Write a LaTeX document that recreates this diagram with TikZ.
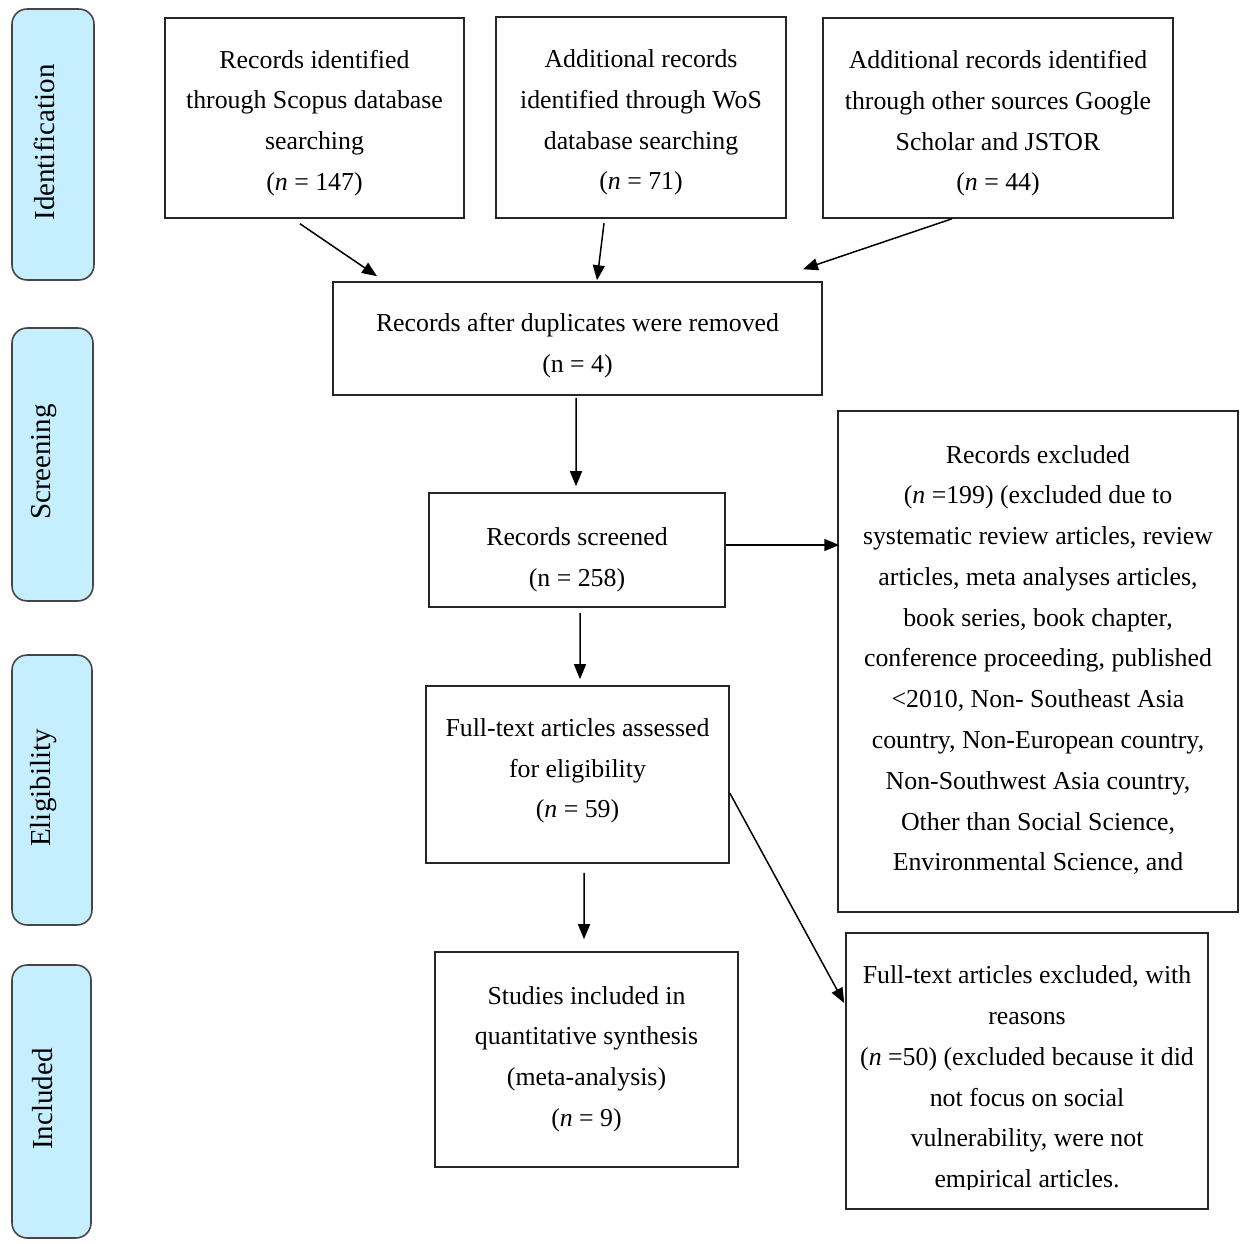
\documentclass[tikz,border=0pt]{standalone}
\usepackage{fontspec}
\setmainfont{Liberation Serif}
\usetikzlibrary{arrows.meta}
\definecolor{stagefill}{RGB}{197,238,255}
\definecolor{stageline}{RGB}{70,70,70}
\begin{document}
\begin{tikzpicture}[x=0.02cm,y=-0.02cm,
  box/.style={draw=black!85, line width=0.9pt, inner sep=0pt},
  txt/.style={align=center, inner sep=0pt, font=\fontsize{14.7}{23.2}\selectfont},
  stage/.style={draw=stageline, fill=stagefill, line width=0.9pt, rounded corners=0.3cm,
    rotate=90, inner sep=0pt},
  stagetxt/.style={rotate=90, inner sep=0pt, font=\fontsize{16.5}{18}\selectfont},
  arr/.style={line width=0.85pt, -{Triangle[length=0.3cm,width=0.24cm]}}]
\useasboundingbox (0,0) rectangle (1240,1244);
% stage labels
\node[stage, minimum width=5.42cm, minimum height=1.64cm] (sid) at (53,144.5) {};
\node[stagetxt] (sidt) at (44,142.5) {Identification};
\node[stage, minimum width=5.46cm, minimum height=1.62cm] (ssc) at (52.5,464.5) {};
\node[stagetxt] (ssct) at (44,462) {Screening};
\node[stage, minimum width=5.40cm, minimum height=1.60cm] (sel) at (52,790) {};
\node[stagetxt] (selt) at (43.5,788) {Eligibility};
\node[stage, minimum width=5.46cm, minimum height=1.58cm] (sin) at (51.5,1101.5) {};
\node[stagetxt] (sint) at (43,1099) {Included};
% boxes
\node[box, minimum width=5.98cm, minimum height=4.0cm] (b1) at (314.5,118) {};
\node[txt] (b1t) at (314.5,123)
  {Records identified\\through Scopus database\\searching\\(\textit{n} = 147)};
\node[box, minimum width=5.8cm, minimum height=4.02cm] (b2) at (641,117.5) {};
\node[txt] (b2t) at (641,122.5)
  {Additional records\\identified through WoS\\database searching\\(\textit{n} = 71)};
\node[box, minimum width=7.0cm, minimum height=4.0cm] (b3) at (998,118) {};
\node[txt] (b3t) at (998,123.5)
  {Additional records identified\\through other sources Google\\Scholar and JSTOR\\(\textit{n} = 44)};
\node[box, minimum width=9.78cm, minimum height=2.26cm] (dup) at (577.5,338.5) {};
\node[txt] (dupt) at (577.5,345.5)
  {Records after duplicates were removed\\(n = 4)};
\node[box, minimum width=5.92cm, minimum height=2.28cm] (scr) at (577,550) {};
\node[txt] (scrt) at (577,559.5)
  {Records screened\\(n = 258)};
\node[box, minimum width=8.0cm, minimum height=10.02cm] (excl) at (1038,661.5) {};
\node[txt] (exclt) at (1038,660)
  {Records excluded\\(\textit{n} =199) (excluded due to\\systematic review articles, review\\articles, meta analyses articles,\\book series, book chapter,\\conference proceeding, published\\<2010, Non- Southeast Asia\\country, Non-European country,\\Non-Southwest Asia country,\\Other than Social Science,\\Environmental Science, and};
\node[box, minimum width=6.06cm, minimum height=3.54cm] (full) at (577.5,774.5) {};
\node[txt] (fullt) at (577.5,771)
  {Full-text articles assessed\\for eligibility\\(\textit{n} = 59)};
\node[box, minimum width=6.06cm, minimum height=4.3cm] (stud) at (586.5,1059.5) {};
\node[txt] (studt) at (586.5,1059)
  {Studies included in\\quantitative synthesis\\(meta-analysis)\\(\textit{n} = 9)};
\node[box, minimum width=7.24cm, minimum height=5.52cm] (fexc) at (1027,1071) {};
\begin{scope}
\clip (850,940) rectangle (1204,1189);
\node[txt] (fexct) at (1027,1079.5)
  {Full-text articles excluded, with\\reasons\\(\textit{n} =50) (excluded because it did\\not focus on social\\vulnerability, were not\\empirical articles.};
\end{scope}
% connectors
\draw[arr] ([xshift=-0.29cm,yshift=-0.1cm]b1.south) -- ([xshift=-4.01cm,yshift=0.1cm]dup.north);
\draw[arr] ([xshift=-0.74cm,yshift=-0.09cm]b2.south) -- ([xshift=0.39cm,yshift=0.02cm]dup.north);
\draw[arr] ([xshift=-0.92cm]b3.south) -- ([xshift=4.51cm,yshift=0.24cm]dup.north);
\draw[arr] ([xshift=-0.03cm,yshift=-0.04cm]dup.south) -- ([xshift=-0.02cm,yshift=0.12cm]scr.north);
\draw[arr] ([yshift=0.1cm]scr.east) -- ([yshift=0.1cm,xshift=0.04cm]scr.east -| excl.west);
\draw[arr] ([xshift=0.06cm,yshift=-0.1cm]scr.south) -- ([xshift=0.05cm,yshift=0.12cm]full.north);
\draw[arr] ([xshift=0.13cm,yshift=-0.18cm]full.south) -- ([xshift=-0.05cm,yshift=0.24cm]stud.north);
\draw[arr] ([yshift=-0.37cm]full.east) -- ([xshift=-0.02cm,yshift=1.36cm]fexc.west);
\end{tikzpicture}
\end{document}
